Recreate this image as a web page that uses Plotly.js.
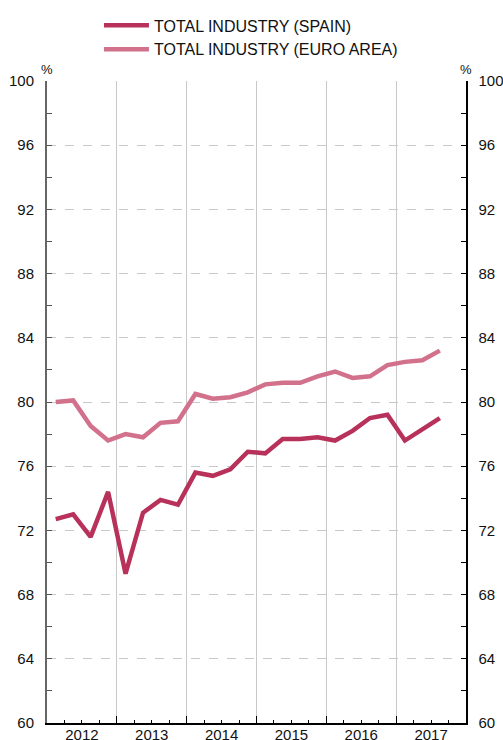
<!DOCTYPE html>
<html>
<head>
<meta charset="utf-8">
<script src="https://cdn.plot.ly/plotly-3.0.1.min.js"></script>
<style>html,body{margin:0;padding:0;background:#fff;}#chart{width:503px;height:740px;}</style>
</head>
<body>
<div id="chart"></div>
<script>
// Quarterly data, 2012 Q1 – 2017 Q3
var years = ['2012', '2013', '2014', '2015', '2016', '2017'];
var quarters = ['2012Q1','2012Q2','2012Q3','2012Q4','2013Q1','2013Q2','2013Q3','2013Q4',
                '2014Q1','2014Q2','2014Q3','2014Q4','2015Q1','2015Q2','2015Q3','2015Q4',
                '2016Q1','2016Q2','2016Q3','2016Q4','2017Q1','2017Q2','2017Q3'];
var spain = [72.7, 73.0, 71.6, 74.4, 69.3, 73.1, 73.9, 73.6, 75.6, 75.4, 75.8, 76.9,
             76.8, 77.7, 77.7, 77.8, 77.6, 78.2, 79.0, 79.2, 77.6, 78.3, 79.0];
var euroArea = [80.0, 80.1, 78.5, 77.6, 78.0, 77.8, 78.7, 78.8, 80.5, 80.2, 80.3, 80.6,
                81.1, 81.2, 81.2, 81.6, 81.9, 81.5, 81.6, 82.3, 82.5, 82.6, 83.2];
var seriesNames = ['TOTAL INDUSTRY (SPAIN)', 'TOTAL INDUSTRY (EURO AREA)'];
var yTicks = [60, 64, 68, 72, 76, 80, 84, 88, 92, 96, 100];

// x positions: quarter index (0 = 2012 Q1)
var xIdx = quarters.map(function (q, i) { return i; });
var nYears = years.length;
var yearBounds = [], yearMids = [], quarterBounds = [];
for (var k = 0; k <= nYears; k++) yearBounds.push(4 * k - 0.5);
for (var k = 0; k < nYears; k++) yearMids.push(4 * k + 1.5);
for (var k = 0; k <= nYears * 4; k++) quarterBounds.push(k - 0.5);

var font = 'Liberation Sans, Arial, Helvetica, sans-serif';
var fs = 15;

var traces = [
  {x: xIdx, y: spain, name: seriesNames[0], type: 'scatter', mode: 'lines', legendgroup: 'a',
   line: {color: '#b8315a', width: 4.5}, xaxis: 'x', yaxis: 'y'},
  {x: xIdx, y: euroArea, name: seriesNames[1], type: 'scatter', mode: 'lines', legendgroup: 'b',
   line: {color: '#d2718b', width: 4.5}, xaxis: 'x', yaxis: 'y2'},
  {x: [], y: [], xaxis: 'x2', yaxis: 'y', showlegend: false, hoverinfo: 'skip'}
];

var layout = {
  width: 503, height: 740,
  margin: {l: 47, r: 37, t: 81, b: 17, autoexpand: false},
  paper_bgcolor: '#fff', plot_bgcolor: '#fff',
  font: {family: font, size: fs, color: '#111'},
  showlegend: true,
  legend: {x: 0.124, xanchor: 'left', y: 1.113, yanchor: 'top', itemwidth: 45,
           traceorder: 'grouped', tracegroupgap: 0,
           bgcolor: 'rgba(0,0,0,0)', font: {size: 16, family: font, color: '#111'}},
  xaxis: {
    range: [-0.5, 4 * nYears - 0.5], tickmode: 'array', tickvals: yearBounds,
    showticklabels: false, ticks: 'inside', ticklen: 7, tickcolor: '#000', tickwidth: 1,
    showgrid: true, gridcolor: '#c8c8c8', gridwidth: 1,
    showline: true, linecolor: '#000', linewidth: 1.5, zeroline: false,
    minor: {tickmode: 'array', tickvals: quarterBounds, ticks: 'inside', ticklen: 3,
            tickcolor: '#000', tickwidth: 1, showgrid: false}
  },
  xaxis2: {
    overlaying: 'x', matches: 'x', side: 'bottom', tickmode: 'array',
    tickvals: yearMids, ticktext: years, ticks: '', showline: false, showgrid: false,
    zeroline: false, ticklabelstandoff: 1, tickfont: {size: fs, family: font, color: '#111'}
  },
  yaxis: {
    range: [60, 100], tickmode: 'array', tickvals: yTicks,
    ticks: 'inside', ticklen: 5, tickcolor: '#555', tickwidth: 1,
    showgrid: true, gridcolor: '#c8c8c8', griddash: 'dash', gridwidth: 1,
    showline: true, linecolor: '#666', linewidth: 2, zeroline: false,
    ticklabelstandoff: 8,
    tickfont: {size: fs, family: font, color: '#111'},
    minor: {dtick: 2, tick0: 60, ticks: 'inside', ticklen: 5, tickcolor: '#555', tickwidth: 1, showgrid: false}
  },
  yaxis2: {
    overlaying: 'y', side: 'right', range: [60, 100], tickmode: 'array', tickvals: yTicks,
    ticks: 'inside', ticklen: 5, tickcolor: '#000', tickwidth: 1,
    showgrid: false, showline: true, linecolor: '#000', linewidth: 1.5, zeroline: false,
    ticklabelstandoff: 8,
    tickfont: {size: fs, family: font, color: '#111'},
    minor: {dtick: 2, tick0: 60, ticks: 'inside', ticklen: 5, tickcolor: '#000', tickwidth: 1, showgrid: false}
  },
  annotations: [
    {xref: 'paper', yref: 'paper', x: 0, y: 1, xanchor: 'center', yanchor: 'bottom',
     yshift: 2, text: '%', showarrow: false, font: {size: 13, family: font, color: '#111'}},
    {xref: 'paper', yref: 'paper', x: 1, y: 1, xanchor: 'center', yanchor: 'bottom',
     yshift: 2, text: '%', showarrow: false, font: {size: 13, family: font, color: '#111'}}
  ]
};

Plotly.newPlot('chart', traces, layout, {displayModeBar: false, staticPlot: true});
</script>
</body>
</html>
